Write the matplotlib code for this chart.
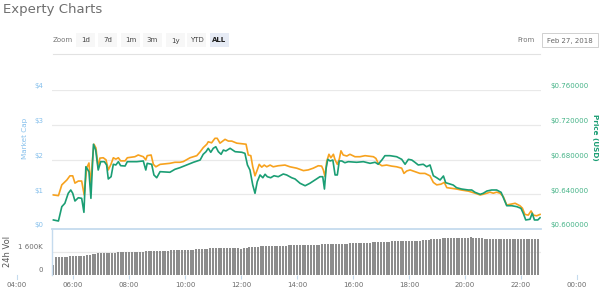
import matplotlib
matplotlib.use('Agg')
import matplotlib.pyplot as plt
from matplotlib.transforms import ScaledTranslation, blended_transform_factory
from matplotlib.patches import Rectangle
import numpy as np

# ---------------- data ----------------
mcap_hours = [5.30,5.48,5.60,5.78,5.89,5.99,6.07,6.19,6.31,6.40,
              6.49,6.57,6.63,6.70,6.75,6.82,6.90,6.96,7.08,7.18,
              7.26,7.36,7.44,7.53,7.62,7.70,7.86,7.94,8.21,8.33,
              8.51,8.60,8.65,8.79,8.87,8.96,9.11,9.46,9.64,9.82,
              9.94,10.18,10.42,10.54,10.65,10.78,10.83,10.95,11.07,11.15,
              11.25,11.35,11.43,11.55,11.67,11.85,12.08,12.18,12.26,12.35,
              12.42,12.50,12.58,12.65,12.74,12.83,12.92,13.04,13.15,13.33,
              13.57,13.75,13.93,13.99,14.23,14.40,14.58,14.76,14.88,14.94,
              15.00,15.06,15.14,15.21,15.30,15.36,15.44,15.51,15.57,15.65,
              15.78,15.89,16.07,16.25,16.43,16.73,16.82,16.90,17.03,17.20,
              17.38,17.56,17.74,17.82,17.92,18.04,18.21,18.39,18.57,18.75,
              18.87,18.99,19.14,19.26,19.35,19.53,19.70,19.88,20.12,20.36,
              20.54,20.65,20.78,20.89,21.01,21.13,21.25,21.37,21.49,21.61,
              21.79,21.96,22.05,22.14,22.26,22.36,22.44,22.56,22.68]
mcap_values = [0.98,0.96,1.27,1.41,1.53,1.53,1.32,1.38,1.38,0.98,
               1.76,1.90,1.27,2.04,2.44,2.33,1.76,2.04,2.05,1.99,
               1.70,1.87,2.05,2.01,2.05,1.96,1.96,2.05,2.08,2.13,
               2.08,1.99,2.11,2.13,1.86,1.79,1.86,1.89,1.92,1.92,
               1.94,2.05,2.11,2.22,2.34,2.44,2.51,2.48,2.61,2.61,
               2.47,2.53,2.58,2.53,2.53,2.47,2.45,2.44,2.13,2.11,
               1.79,1.53,1.70,1.86,1.78,1.84,1.79,1.84,1.79,1.82,
               1.84,1.79,1.76,1.75,1.68,1.70,1.75,1.82,1.81,1.70,
               1.51,1.94,2.15,2.05,2.15,1.99,1.86,2.01,2.25,2.13,
               2.10,2.15,2.08,2.08,2.11,2.08,2.03,1.89,1.82,1.84,
               1.81,1.79,1.75,1.60,1.67,1.70,1.65,1.60,1.60,1.53,
               1.34,1.27,1.29,1.34,1.19,1.17,1.15,1.12,1.09,1.03,
               0.98,1.00,1.03,1.06,1.03,1.06,1.03,0.93,0.69,0.71,
               0.74,0.67,0.60,0.42,0.40,0.52,0.40,0.38,0.42]

price_hours = [5.30,5.48,5.60,5.71,5.83,5.92,5.99,6.07,6.19,6.31,
               6.39,6.46,6.57,6.64,6.73,6.81,6.90,6.99,7.12,7.20,
               7.26,7.36,7.44,7.53,7.62,7.70,7.86,7.94,8.28,8.51,
               8.60,8.65,8.81,8.89,8.99,9.11,9.46,9.64,9.82,10.06,
               10.30,10.54,10.65,10.75,10.83,10.92,11.01,11.10,11.19,11.29,
               11.37,11.46,11.61,11.79,12.03,12.14,12.23,12.32,12.42,12.50,
               12.58,12.68,12.78,12.86,12.94,13.06,13.18,13.33,13.51,13.63,
               13.81,13.93,14.11,14.29,14.46,14.64,14.82,14.92,14.98,15.04,
               15.10,15.18,15.28,15.36,15.44,15.51,15.60,15.71,15.83,16.13,
               16.37,16.61,16.79,16.90,17.03,17.14,17.32,17.56,17.74,17.86,
               17.98,18.10,18.21,18.33,18.51,18.63,18.75,18.87,18.99,19.11,
               19.23,19.31,19.46,19.58,19.70,19.88,20.12,20.24,20.36,20.54,
               20.65,20.78,20.95,21.13,21.29,21.37,21.49,21.67,21.85,22.00,
               22.08,22.17,22.32,22.40,22.48,22.60,22.68]
price_values = [0.6104,0.6092,0.6257,0.6296,0.6411,0.6449,0.6411,0.6322,0.6360,0.6353,
                0.6192,0.6717,0.6660,0.6353,0.6975,0.6909,0.6679,0.6775,0.6775,0.6737,
                0.6576,0.6602,0.6745,0.6737,0.6775,0.6729,0.6725,0.6775,0.6775,0.6783,
                0.6679,0.6756,0.6745,0.6622,0.6590,0.6660,0.6653,0.6687,0.6706,0.6737,
                0.6768,0.6794,0.6860,0.6890,0.6929,0.6883,0.6929,0.6947,0.6890,0.6860,
                0.6909,0.6898,0.6929,0.6890,0.6883,0.6871,0.6737,0.6679,0.6506,0.6411,
                0.6544,0.6622,0.6590,0.6630,0.6602,0.6590,0.6613,0.6602,0.6633,0.6622,
                0.6590,0.6576,0.6526,0.6498,0.6526,0.6564,0.6602,0.6602,0.6460,0.6699,
                0.6802,0.6783,0.6794,0.6622,0.6622,0.6783,0.6783,0.6763,0.6775,0.6768,
                0.6775,0.6756,0.6768,0.6745,0.6794,0.6844,0.6844,0.6832,0.6802,0.6745,
                0.6802,0.6794,0.6768,0.6737,0.6745,0.6717,0.6737,0.6613,0.6590,0.6564,
                0.6610,0.6533,0.6518,0.6506,0.6475,0.6460,0.6449,0.6449,0.6422,0.6399,
                0.6411,0.6437,0.6449,0.6449,0.6422,0.6360,0.6268,0.6268,0.6257,0.6238,
                0.6181,0.6104,0.6112,0.6181,0.6104,0.6104,0.6130]

# 24h volume (thousands), one bar every 6 minutes from 05:18
vol_start = 5.3
vol_step = 0.1
vol_values = [690, 1230, 1240, 1250, 1250, 1260, 1270,
              1280, 1290, 1300, 1300, 1320, 1340, 1380, 1420, 1470, 1500,
              1510, 1520, 1530, 1530, 1540, 1540, 1550, 1550, 1560, 1560,
              1580, 1590, 1590, 1600, 1600, 1610, 1620, 1630, 1640, 1650,
              1660, 1660, 1670, 1670, 1680, 1690, 1700, 1700, 1710, 1720,
              1730, 1740, 1740, 1750, 1770, 1790, 1800, 1810, 1820, 1830,
              1840, 1850, 1850, 1860, 1860, 1870, 1880, 1890, 1890, 1830,
              1820, 1850, 1880, 1900, 1920, 1940, 1960, 1980, 1990, 2000,
              2000, 2010, 2010, 2020, 2020, 2030, 2030, 2040, 2040, 2050,
              2050, 2050, 2060, 2060, 2070, 2070, 2080, 2090, 2100, 2110,
              2130, 2140, 2150, 2150, 2160, 2160, 2170, 2180, 2180, 2190,
              2200, 2210, 2210, 2220, 2230, 2240, 2250, 2260, 2270, 2280,
              2300, 2310, 2320, 2320, 2330, 2330, 2340, 2340, 2340, 2350,
              2350, 2360, 2370, 2380, 2390, 2400, 2420, 2440, 2470, 2490,
              2500, 2520, 2540, 2550, 2560, 2570, 2570, 2580, 2590, 2590,
              2600, 2600, 2610, 2590, 2580, 2560, 2540, 2530, 2520, 2520,
              2510, 2510, 2500, 2500, 2510, 2500, 2490, 2490, 2480, 2480,
              2480, 2480, 2490, 2490, 2500, 2510, 2520]

x_tick_hours = [4, 6, 8, 10, 12, 14, 16, 18, 20, 22, 24]
x_tick_labels = ["04:00", "06:00", "08:00", "10:00", "12:00", "14:00",
                 "16:00", "18:00", "20:00", "22:00", "00:00"]
mcap_ticks = [0, 1, 2, 3, 4]
mcap_tick_labels = ["$0", "$1", "$2", "$3", "$4"]
price_ticks = [0.60, 0.64, 0.68, 0.72, 0.76]
price_tick_labels = ["$0.600000", "$0.640000", "$0.680000", "$0.720000", "$0.760000"]
vol_ticks = [0, 1600]
vol_tick_labels = ["0", "1 600K"]
zoom_buttons = ["1d", "7d", "1m", "3m", "1y", "YTD", "ALL"]

# ---------------- style ----------------
W, H = 600, 288
ORANGE = '#f7a21e'
GREEN = '#1b9e74'
BLUE_TXT = '#86c0ec'
GREEN_TXT = '#45b387'
AXIS_BLUE = '#c5dbee'
GRID = '#e9e9e9'
GREY_TXT = '#6b6b6b'

plt.rcParams['font.family'] = ['DejaVu Sans']

fig = plt.figure(figsize=(W / 100, H / 100), dpi=100)
fig.patch.set_facecolor('white')

def fx(x):
    return x / W

def fy(y):
    return 1 - y / H

L, R = 52, 541
TOP, MID, BOT = 90, 229, 274.5
x0 = 5.25
x1 = x0 + (R - L) / 28.0

ax1 = fig.add_axes([fx(L), fy(MID), fx(R - L), (MID - TOP) / H])
axv = fig.add_axes([fx(L), fy(BOT), fx(R - L), (BOT - MID) / H])
ax2 = ax1.twinx()

for a in (ax1, ax2, axv):
    for s in a.spines.values():
        s.set_visible(False)
    a.set_facecolor('none')

ax1.set_xlim(x0, x1)
axv.set_xlim(x0, x1)
ax1.set_ylim(0, 4)
ax2.set_ylim(0.60, 0.76)

for v in mcap_ticks[1:]:
    ax1.axhline(v, color=GRID, lw=0.9, zorder=0)
ax1.axhline(0, color=AXIS_BLUE, lw=1.3, zorder=1, clip_on=False)

ax1.plot(mcap_hours, mcap_values, color=ORANGE, lw=1.2, solid_joinstyle='round', zorder=3)
ax2.plot(price_hours, price_values, color=GREEN, lw=1.2, solid_joinstyle='round', zorder=3)

ax1.set_xticks([])
ax1.set_yticks(mcap_ticks)
ax1.set_yticklabels(mcap_tick_labels)
ax1.tick_params(axis='y', length=0, pad=6.5, labelsize=5, labelcolor=BLUE_TXT)
ax2.set_yticks(price_ticks)
ax2.set_yticklabels(price_tick_labels)
ax2.tick_params(axis='y', length=0, pad=6.5, labelsize=5, labelcolor=GREEN_TXT)

up = ScaledTranslation(0, 3 / 72, fig.dpi_scale_trans)
for lab in ax1.get_yticklabels() + ax2.get_yticklabels():
    lab.set_transform(lab.get_transform() + up)

# volume panel
vol_hours = [vol_start + i * vol_step for i in range(len(vol_values))]
axv.bar(vol_hours, vol_values, width=0.072, color='#8c8c8c', linewidth=0, zorder=2)
axv.set_ylim(0, 3200)
axv.axhline(1600, color=GRID, lw=0.9, zorder=1)
axv.spines['left'].set_visible(True)
axv.spines['left'].set_color(AXIS_BLUE)
axv.spines['left'].set_linewidth(1.0)
axv.set_yticks(vol_ticks)
axv.set_yticklabels(vol_tick_labels)
axv.tick_params(axis='y', length=0, pad=6.5, labelsize=5, labelcolor=GREY_TXT)
for lab in axv.get_yticklabels():
    lab.set_transform(lab.get_transform() + ScaledTranslation(0, 3.5 / 72, fig.dpi_scale_trans))

inner = [h for h in x_tick_hours if x0 < h < x1]
axv.set_xticks(inner)
axv.set_xticklabels([x_tick_labels[x_tick_hours.index(h)] for h in inner])
axv.tick_params(axis='x', length=3, width=0.8, color=AXIS_BLUE, pad=2.5,
                labelsize=5, labelcolor=GREY_TXT)
trans = blended_transform_factory(axv.transData, axv.transAxes)
for h, lab in zip(x_tick_hours, x_tick_labels):
    if not (x0 < h < x1):
        axv.text(h, 0, lab, transform=trans + ScaledTranslation(0, -3.2 / 72 - 2.5 / 72, fig.dpi_scale_trans),
                 ha='center', va='top', fontsize=5, color=GREY_TXT, clip_on=False)
        axv.plot([h, h], [0, 0], transform=trans, clip_on=False)
        ln = plt.Line2D([h, h], [0, -0.09], transform=trans, color=AXIS_BLUE, lw=0.8, clip_on=False)
        axv.add_line(ln)

# axis titles
fig.text(fx(25), fy(138), "Market Cap", rotation=90, ha='center', va='center',
         fontsize=5.2, color=BLUE_TXT)
fig.text(fx(595), fy(137), "Price (USD)", rotation=-90, ha='center', va='center',
         fontsize=5.2, color=GREEN, fontweight='bold')
fig.text(fx(8), fy(251), "24h Vol", rotation=90, ha='center', va='center',
         fontsize=6, color='#555555')

# header
fig.text(fx(3), fy(10), "Experty Charts", ha='left', va='center', fontsize=9.5, color='#6e6e6e')
fig.text(fx(53), fy(40.5), "Zoom", ha='left', va='center', fontsize=5, color='#777777')
btn_x = [76, 98, 121, 143, 166, 187, 210]
for bx, lab in zip(btn_x, zoom_buttons):
    active = lab == "ALL"
    fig.add_artist(Rectangle((fx(bx), fy(47)), fx(19), 14 / H, transform=fig.transFigure,
                             facecolor='#e6ebf5' if active else '#f7f7f7', edgecolor='none'))
    fig.text(fx(bx + 9.5), fy(40.5), lab, ha='center', va='center', fontsize=5,
             color='#222222' if active else '#444444',
             fontweight='bold' if active else 'normal')
fig.add_artist(plt.Line2D([fx(53), fx(540)], [fy(53.5), fy(53.5)], transform=fig.transFigure,
                          color='#e2e2e2', lw=0.8))
fig.text(fx(535), fy(40.5), "From", ha='right', va='center', fontsize=5, color='#777777')
fig.add_artist(Rectangle((fx(542), fy(47)), fx(56), 14 / H, transform=fig.transFigure,
                         facecolor='white', edgecolor='#d0d0d0', lw=0.7))
fig.text(fx(570), fy(40.5), "Feb 27, 2018", ha='center', va='center', fontsize=5, color='#666666')

fig.savefig('out.png', dpi=100, facecolor='white')
